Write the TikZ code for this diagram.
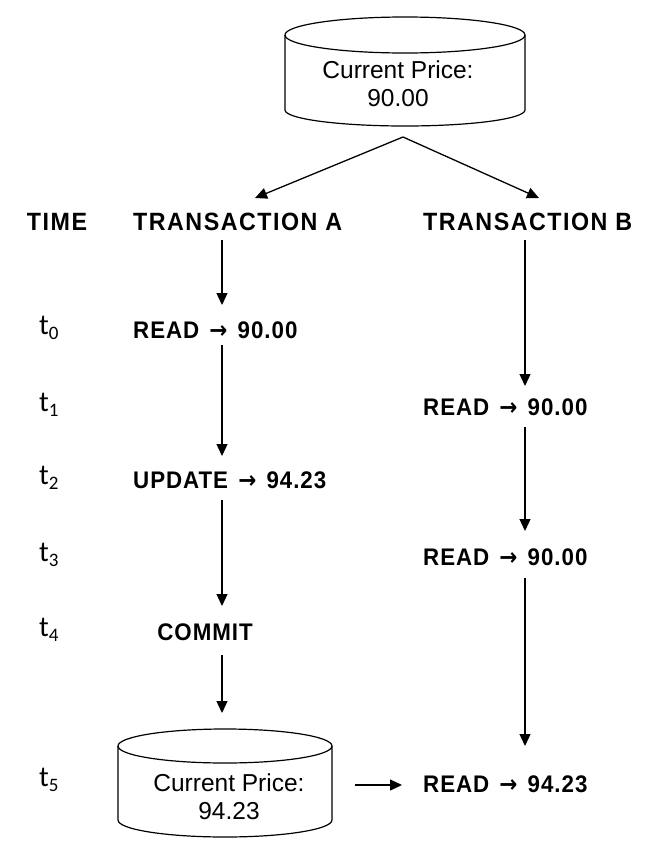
\documentclass[tikz,border=0pt]{standalone}
\usepackage{fontspec}
\setmainfont{Liberation Sans}
\newfontfamily\nbold[FakeStretch=0.93,LetterSpace=4]{Liberation Sans}
\newfontfamily\hbold[FakeStretch=0.93,LetterSpace=6]{Liberation Sans}
\newfontfamily\arrfont[FakeStretch=0.9]{DejaVu Sans}
\newfontfamily\tfont{Carlito}
\usetikzlibrary{arrows.meta}
\tikzset{
  lbl/.style={font=\nbold\bfseries\fontsize{24}{28}\selectfont, inner sep=0pt},
  hdr/.style={font=\hbold\bfseries\fontsize{25}{29}\selectfont, inner sep=0pt},
  dbtext/.style={font=\fontsize{24.5}{28}\selectfont, align=center, inner sep=0pt},
  tlbl/.style={font=\tfont\fontsize{29}{30}\selectfont, inner sep=0pt, anchor=west},
  arr/.style={line width=1.3pt, -{Triangle[length=12pt,width=11pt]}},
  cyl/.style={line width=1.2pt}
}
\newcommand{\tsub}[1]{t\raisebox{-0.35ex}{\fontsize{19}{19}\selectfont #1}}
\newcommand{\rarr}{\hspace{3pt}{\arrfont\bfseries →}\hspace{3pt}}
\begin{document}
\begin{tikzpicture}[x=1pt,y=1pt]
\useasboundingbox (0,0) rectangle (651,-854);

% top cylinder
\draw[cyl] (285,-35) -- (285,-110) arc[start angle=180,end angle=360,x radius=120,y radius=16] -- (525,-35);
\draw[cyl] (405,-35) ellipse[x radius=120, y radius=18];
\node[dbtext] (db1) at (398,-84) {Current Price:\\90.00};

% bottom cylinder
\draw[cyl] (118,-746) -- (118,-820) arc[start angle=180,end angle=360,x radius=107,y radius=17] -- (332,-746);
\draw[cyl] (225,-746) ellipse[x radius=107, y radius=17];
\node[dbtext] (db2) at (229,-797) {Current Price:\\94.23};

% headers
\node[hdr] (time) at (57,-222) {TIME};
\node[hdr, anchor=west] (hA) at (133,-222) {TRANSACTION A};
\node[hdr, anchor=west] (hB) at (423,-222) {TRANSACTION B};

% time labels
\node[tlbl] (t0) at (39,-328) {\tsub{0}};
\node[tlbl] (t1) at (39,-405) {\tsub{1}};
\node[tlbl] (t2) at (39,-478) {\tsub{2}};
\node[tlbl] (t3) at (39,-555) {\tsub{3}};
\node[tlbl] (t4) at (39,-630) {\tsub{4}};
\node[tlbl] (t5) at (39,-780) {\tsub{5}};

% transaction A steps
\node[lbl, anchor=west] (a0) at (133,-330) {READ \rarr{} 90.00};
\node[lbl, anchor=west] (a2) at (133,-480) {UPDATE \rarr{} 94.23};
\node[lbl] (a4) at (205,-632) {COMMIT};

% transaction B steps
\node[lbl, anchor=west] (b1) at (423,-407) {READ \rarr{} 90.00};
\node[lbl, anchor=west] (b3) at (423,-557) {READ \rarr{} 90.00};
\node[lbl, anchor=west] (b5) at (423,-784) {READ \rarr{} 94.23};

% connectors
\coordinate (split) at (403,-137);
\coordinate (tipA) at (255,-198);
\coordinate (tipB) at (539,-198);
\draw[arr] (split) -- (tipA);
\draw[arr] (split) -- (tipB);

\coordinate (A1s) at (222,-240); \coordinate (A1e) at (222,-305);
\coordinate (A2s) at (222,-345); \coordinate (A2e) at (222,-456);
\coordinate (A3s) at (222,-500); \coordinate (A3e) at (222,-606);
\coordinate (A4s) at (222,-655); \coordinate (A4e) at (222,-713);
\draw[arr] (A1s) -- (A1e);
\draw[arr] (A2s) -- (A2e);
\draw[arr] (A3s) -- (A3e);
\draw[arr] (A4s) -- (A4e);

\coordinate (B1s) at (525,-240); \coordinate (B1e) at (525,-386);
\coordinate (B2s) at (525,-427); \coordinate (B2e) at (525,-531);
\coordinate (B3s) at (525,-578); \coordinate (B3e) at (525,-746);
\draw[arr] (B1s) -- (B1e);
\draw[arr] (B2s) -- (B2e);
\draw[arr] (B3s) -- (B3e);

\coordinate (H1) at (355,-785);
\coordinate (H2) at (402,-785);
\draw[arr] (H1) -- (H2);
\end{tikzpicture}
\end{document}
